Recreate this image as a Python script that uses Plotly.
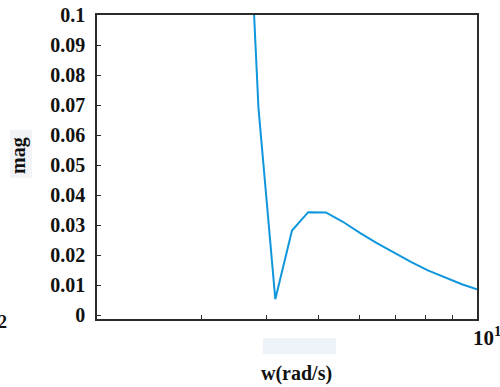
import plotly.graph_objects as go

# Data (frequency in rad/s, magnitude)
w = [3.58, 3.854, 4.148, 4.461, 4.788, 5.172, 5.570, 5.999, 6.461, 6.958,
     7.494, 8.071, 8.692, 9.361, 10.0]
mag = [0.189, 0.0691, 0.0053, 0.0282, 0.0343, 0.0342, 0.0311, 0.0274, 0.0240,
       0.0208, 0.0177, 0.0149, 0.0125, 0.0103, 0.0086]

y_ticks = [0, 0.01, 0.02, 0.03, 0.04, 0.05, 0.06, 0.07, 0.08, 0.09, 0.1]
y_labels = ["0", "0.01", "0.02", "0.03", "0.04", "0.05", "0.06", "0.07", "0.08", "0.09", "0.1"]
x_ticks = [3, 4, 5, 6, 7, 8, 9, 10]

FONT = "Liberation Serif"
AX = "#2b2b2b"

fig = go.Figure()
fig.add_trace(go.Scatter(x=w, y=mag, mode="lines",
                         line=dict(color="#0f96dc", width=2), hoverinfo="skip"))

fig.update_layout(
    width=500, height=387,
    margin=dict(l=97, r=23, t=15, b=68, autoexpand=False),
    paper_bgcolor="white", plot_bgcolor="white",
    showlegend=False,
    font=dict(family=FONT, size=20, color="#111"),
    xaxis=dict(type="log", range=[0.28, 1], tickvals=x_ticks,
               ticktext=[""] * len(x_ticks), ticks="inside", ticklen=4,
               tickcolor=AX, tickwidth=1, showgrid=False, zeroline=False,
               showline=True, linecolor=AX, linewidth=1.5, mirror=True,
               automargin=False),
    yaxis=dict(range=[-0.0013, 0.1], tickvals=y_ticks, ticktext=y_labels,
               ticks="inside", ticklen=4, tickcolor=AX, tickwidth=1,
               showgrid=False, zeroline=False, showline=True, linecolor=AX,
               linewidth=1.5, mirror=True, ticklabelstandoff=6, automargin=False,
               tickfont=dict(family=FONT, size=20, color="#111", weight="bold")),
    shapes=[
        dict(type="rect", xref="paper", yref="paper", layer="below",
             x0=(263 - 97) / 380, x1=(336 - 97) / 380,
             y0=(387 - 68 - 354) / 304, y1=(387 - 68 - 338) / 304,
             fillcolor="#eef3fa", line=dict(width=0)),
        dict(type="rect", xref="paper", yref="paper", layer="below",
             x0=(10 - 97) / 380, x1=(32 - 97) / 380,
             y0=(387 - 68 - 178) / 304, y1=(387 - 68 - 130) / 304,
             fillcolor="#f1f3f6", line=dict(width=0)),
    ],
    annotations=[
        dict(text="<b>w(rad/s)</b>", xref="paper", yref="paper",
             x=(296 - 97) / 380, y=(387 - 68 - 373) / 304,
             xanchor="center", yanchor="middle", showarrow=False,
             font=dict(family=FONT, size=20, color="#111")),
        dict(text="<b>mag</b>", xref="paper", yref="paper",
             x=(18 - 97) / 380, y=(387 - 68 - 156) / 304, textangle=-90,
             xanchor="center", yanchor="middle", showarrow=False,
             font=dict(family=FONT, size=20, color="#111")),
        dict(text="<b>10<sup>1</sup></b>", xref="paper", yref="paper",
             x=(471 - 97) / 380, y=(387 - 68 - 336) / 304,
             xanchor="left", yanchor="middle", showarrow=False,
             font=dict(family=FONT, size=21, color="#111")),
        dict(text="<b>2</b>", xref="paper", yref="paper",
             x=(-4 - 97) / 380, y=(387 - 68 - 322) / 304,
             xanchor="left", yanchor="middle", showarrow=False,
             font=dict(family=FONT, size=18, color="#111")),
    ],
)

fig.write_html(
    "out.html",
    config={"displayModeBar": False},
    post_script="document.body.style.margin='0';document.body.style.overflow='hidden';",
)
